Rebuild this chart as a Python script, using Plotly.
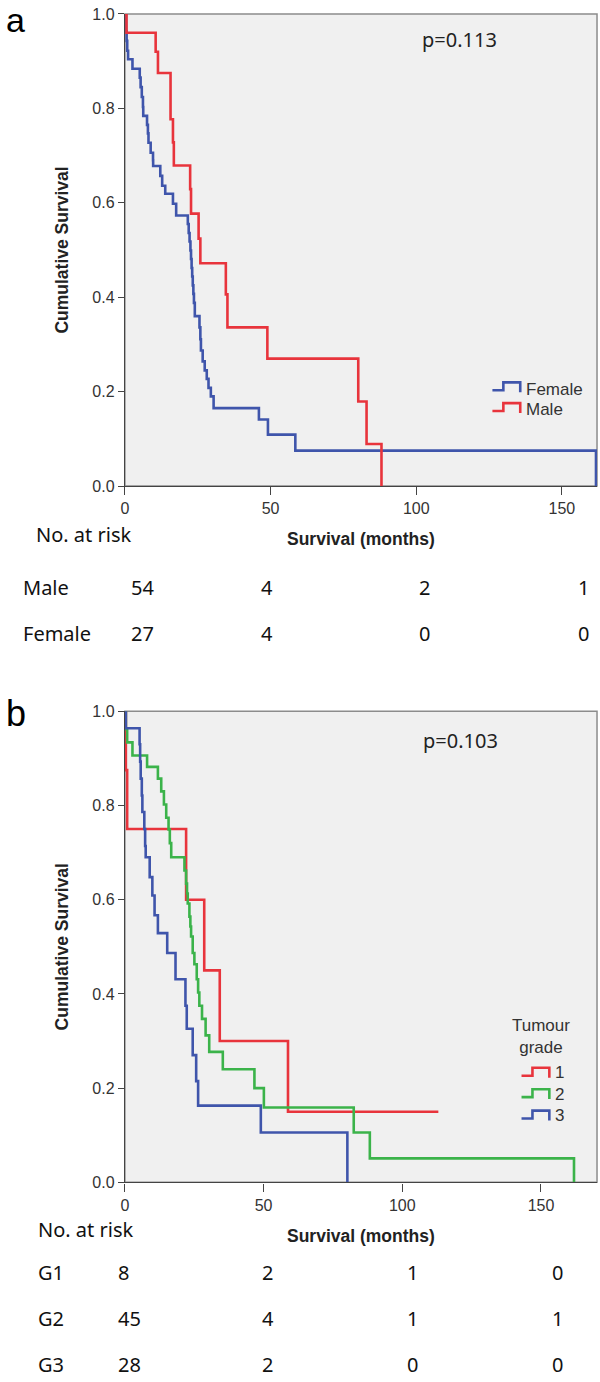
import plotly.graph_objects as go

W, H = 600, 1382

# ---------------- data ----------------
# Panel a: survival by sex
male_t = [0, 0.56, 10.56, 11.35, 15.67, 16.5, 16.8, 22.4, 22.7, 25.3, 25.9, 34.65, 35.2, 48.9, 80.1, 82.95, 88.07]
male_s = [1.0, 0.960, 0.920, 0.875, 0.777, 0.728, 0.679, 0.629, 0.577, 0.524, 0.472, 0.406, 0.336, 0.270, 0.179, 0.089, 0.0]

female_t = [0, 0.4, 0.6, 0.8, 1.1, 2.6, 5.1, 5.4, 5.8, 6.2, 6.3, 7.6, 7.9, 8.1, 8.85, 9.65, 9.7,
            12.15, 12.8, 13.85, 16.5, 17.6, 21.6, 21.9, 22.2, 22.5, 22.7, 22.9, 23.1, 23.3, 23.5, 23.7,
            24.0, 25.6, 25.9, 26.1, 26.7, 27.4, 28.1, 28.7, 29.5, 30.45, 46.0, 49.1, 58.5, 161.7]
female_s = [1.0, 0.963, 0.943, 0.922, 0.904, 0.884, 0.865, 0.845, 0.824, 0.803, 0.784, 0.765, 0.747,
            0.727, 0.706, 0.690, 0.678, 0.657, 0.636, 0.619, 0.598, 0.573, 0.555, 0.536, 0.518, 0.499,
            0.481, 0.462, 0.444, 0.425, 0.407, 0.388, 0.360, 0.336, 0.311, 0.287, 0.264, 0.245, 0.227,
            0.208, 0.190, 0.165, 0.141, 0.109, 0.075, 0.0]

# Panel b: survival by tumour grade
g1_t = [0, 0.35, 0.82, 22.07, 28.6, 34.2, 58.8, 113.0]
g1_s = [1.0, 0.875, 0.75, 0.60, 0.45, 0.30, 0.15, 0.15]

g2_t = [0, 0.35, 0.82, 2.73, 8.0, 11.9, 13.1, 14.07, 14.9, 15.74, 16.2, 16.7, 21.47, 22.07, 22.4,
        22.66, 23.26, 23.6, 23.86, 24.45, 25.05, 25.9, 26.4, 26.84, 27.8, 29.1, 30.4, 35.3, 46.7,
        50.1, 82.5, 88.3, 161.9]
g2_s = [1.0, 0.962, 0.934, 0.906, 0.882, 0.857, 0.830, 0.802, 0.774, 0.749, 0.720, 0.690, 0.662,
        0.634, 0.613, 0.592, 0.564, 0.543, 0.522, 0.487, 0.463, 0.431, 0.403, 0.375, 0.347, 0.312,
        0.277, 0.240, 0.200, 0.159, 0.106, 0.051, 0.0]

g3_t = [0, 0.35, 5.3, 5.5, 5.7, 6.1, 6.3, 7.0, 7.3, 7.5, 8.94, 9.9, 10.7, 11.9, 15.26, 18.25,
        21.83, 22.3, 24.45, 25.7, 26.4, 49.0, 80.2]
g3_s = [1.0, 0.964, 0.930, 0.893, 0.857, 0.821, 0.786, 0.750, 0.714, 0.690, 0.648, 0.609, 0.567,
        0.529, 0.487, 0.431, 0.375, 0.326, 0.270, 0.215, 0.163, 0.106, 0.0]

x_ticks = [0, 50, 100, 150]
y_ticks = [0.0, 0.2, 0.4, 0.6, 0.8, 1.0]

sex_groups = ["Male", "Female"]
sex_risk = [[54, 4, 2, 1], [27, 4, 0, 0]]
grade_groups = ["G1", "G2", "G3"]
grade_risk = [[8, 2, 1, 0], [45, 4, 1, 1], [28, 2, 0, 0]]

sex_legend = ["Female", "Male"]
grade_legend = ["1", "2", "3"]
grade_legend_title = "Tumour<br>grade"
p_sex = "p=0.113"
p_grade = "p=0.103"
x_title = "Survival (months)"
y_title = "Cumulative Survival"
risk_title = "No. at risk"

# ---------------- style ----------------
RED = "#e8343c"
BLUE = "#3f55ab"
GREEN = "#3bb34a"
LW = 2.6
AX_FONT = "Liberation Sans, Arial, sans-serif"
CAL_FONT = "Noto Sans, Open Sans, sans-serif"


def px(x):
    return x / W


def py(y):
    return 1 - y / H


fig = go.Figure()

fig.add_trace(go.Scatter(x=female_t, y=female_s, mode="lines", line=dict(color=BLUE, width=LW, shape="hv"),
                         xaxis="x", yaxis="y", showlegend=False, cliponaxis=False))
fig.add_trace(go.Scatter(x=male_t, y=male_s, mode="lines", line=dict(color=RED, width=LW, shape="hv"),
                         xaxis="x", yaxis="y", showlegend=False, cliponaxis=False))

fig.add_trace(go.Scatter(x=g1_t, y=g1_s, mode="lines", line=dict(color=RED, width=LW, shape="hv"),
                         xaxis="x2", yaxis="y2", showlegend=False, cliponaxis=False))
fig.add_trace(go.Scatter(x=g2_t, y=g2_s, mode="lines", line=dict(color=GREEN, width=LW, shape="hv"),
                         xaxis="x2", yaxis="y2", showlegend=False, cliponaxis=False))
fig.add_trace(go.Scatter(x=g3_t, y=g3_s, mode="lines", line=dict(color=BLUE, width=LW, shape="hv"),
                         xaxis="x2", yaxis="y2", showlegend=False, cliponaxis=False))

# panel geometry in pixels
L, R = 121.7, 597.0
A_TOP, A_BOT = 6.0, 484.0
B_TOP, B_BOT = 712.0, 1189.0
A_XMAX = 162.05
B_XMAX = 170.2

xaxis_common = dict(
    tickvals=x_ticks, ticks="outside", ticklen=8, tickwidth=1.3, tickcolor="#444",
    showline=True, linecolor="#444", linewidth=1.3, showgrid=False, zeroline=False,
    tickfont=dict(family=AX_FONT, size=16, color="#333"), fixedrange=True,
)
yaxis_common = dict(
    tickvals=y_ticks, tickformat=".1f", ticks="outside", ticklen=6, tickwidth=1.3, tickcolor="#444",
    showline=True, linecolor="#444", linewidth=1.3, showgrid=False, zeroline=False,
    tickfont=dict(family=AX_FONT, size=16, color="#333"), range=[0, 1], fixedrange=True,
)

fig.update_layout(
    width=W, height=H, margin=dict(l=0, r=0, t=0, b=0, pad=0),
    paper_bgcolor="white", plot_bgcolor="#f0f0f0", showlegend=False,
    xaxis=dict(domain=[px(L), px(R)], range=[0, A_XMAX], anchor="y", **xaxis_common),
    yaxis=dict(domain=[py(A_BOT), py(A_TOP)], anchor="x", **yaxis_common),
    xaxis2=dict(domain=[px(L), px(R)], range=[0, B_XMAX], anchor="y2", **xaxis_common),
    yaxis2=dict(domain=[py(B_BOT), py(B_TOP)], anchor="x2", **yaxis_common),
)

shapes = []
# light frame (top/right borders)
for top, bot in ((A_TOP, A_BOT), (B_TOP, B_BOT)):
    shapes.append(dict(type="rect", xref="paper", yref="paper", x0=px(L), x1=px(R), y0=py(bot), y1=py(top),
                       line=dict(color="#8c8c8c", width=1.5), layer="below"))

annotations = []


def txt(text, x, y, size, family=AX_FONT, xanchor="center", color="#222", angle=0):
    annotations.append(dict(text=text, x=px(x), y=py(y), xref="paper", yref="paper", showarrow=False,
                            xanchor=xanchor, yanchor="middle", textangle=angle,
                            font=dict(family=family, size=size, color=color)))


def icon(x0, y, color):
    # SPSS-style step legend glyph
    path = (f"M {px(x0)},{py(y)} L {px(x0 + 11)},{py(y)} L {px(x0 + 11)},{py(y - 8)} "
            f"L {px(x0 + 28)},{py(y - 8)} L {px(x0 + 28)},{py(y + 2)}")
    shapes.append(dict(type="path", xref="paper", yref="paper", path=path,
                       line=dict(color=color, width=2.6)))


# panel letters
txt("a", 0.5, 12, 34, xanchor="left", color="#000")
txt("b", 0.5, 714, 36, xanchor="left", color="#000")

# axis titles
for top, bot in ((A_TOP, A_BOT), (B_TOP, B_BOT)):
    txt(f"<b>{y_title}</b>", 58, (top + bot) / 2, 17.5, angle=-90)
    txt(f"<b>{x_title}</b>", (L + R) / 2, bot + 54, 17.5)

# p-values
txt(p_sex, 459, 32, 20, family=CAL_FONT)
txt(p_grade, 460, 742, 20, family=CAL_FONT)

# legend panel a
for i, (lab, col) in enumerate(zip(sex_legend, [BLUE, RED])):
    yy = 387 + 21 * i
    icon(491.7, yy, col)
    txt(lab, 523, yy - 1, 17, xanchor="left", color="#333")

# legend panel b
txt(grade_legend_title, 541, 1041, 17, color="#333")
for i, (lab, col) in enumerate(zip(grade_legend, [RED, GREEN, BLUE])):
    yy = 1081 + 21.7 * i
    icon(521, yy, col)
    txt(lab, 553, yy - 3, 17, xanchor="left", color="#333")

# risk tables
txt(risk_title, 30.6, 533, 20, family=CAL_FONT, xanchor="left", color="#111")
cols_a = [126, 257, 416, 576]
for r, (g, vals) in enumerate(zip(sex_groups, sex_risk)):
    yy = 587 + 46 * r
    txt(g, 17, yy, 20, family=CAL_FONT, xanchor="left", color="#111")
    for cx, v in zip(cols_a, vals):
        txt(str(v), cx, yy, 20, family=CAL_FONT, xanchor="left", color="#111")

txt(risk_title, 32.6, 1237, 20, family=CAL_FONT, xanchor="left", color="#111")
cols_b = [113, 258, 404, 550]
for r, (g, vals) in enumerate(zip(grade_groups, grade_risk)):
    yy = 1280 + 46.5 * r
    txt(g, 32.6, yy, 20, family=CAL_FONT, xanchor="left", color="#111")
    for cx, v in zip(cols_b, vals):
        txt(str(v), cx, yy, 20, family=CAL_FONT, xanchor="left", color="#111")

fig.update_layout(shapes=shapes, annotations=annotations)
fig.write_html(
    "out.html",
    config={"displayModeBar": False, "staticPlot": False},
    post_script="document.body.style.margin='0';document.body.style.padding='0';"
                "document.documentElement.style.overflow='hidden';",
)
